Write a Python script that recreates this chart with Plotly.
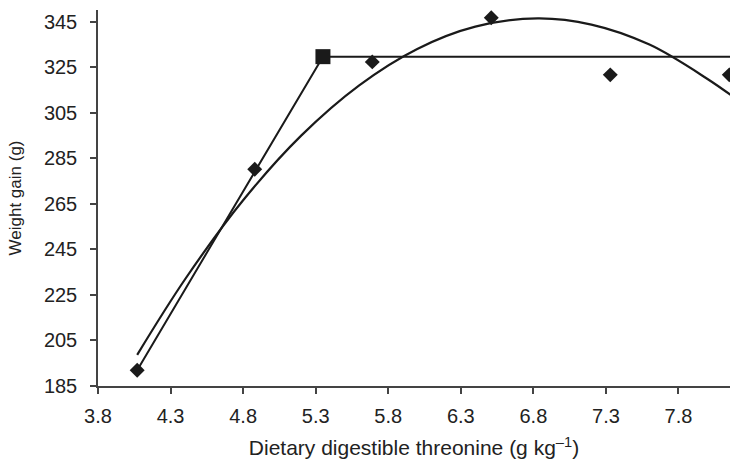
import plotly.graph_objects as go

# Observed data (diamonds)
obs_x = [4.07, 4.88, 5.69, 6.51, 7.33, 8.15]
obs_y = [191.9, 280.2, 327.4, 346.8, 321.7, 321.7]

# Broken-line model: ascending segment, breakpoint, plateau
broken_x = [4.07, 5.35, 8.2]
broken_y = [191.9, 329.7, 329.7]
break_x = [5.35]
break_y = [329.7]

# Quadratic fit curve
quad_x = [4.07, 4.4, 4.8, 5.2, 5.6, 6.0, 6.4, 6.83, 7.2, 7.6, 8.0, 8.2]
quad_y = [198.7, 231.9, 266.6, 295.0, 317.1, 333.1, 342.9, 346.5, 343.8, 335.0, 319.9, 311.0]

x_ticks = [3.8, 4.3, 4.8, 5.3, 5.8, 6.3, 6.8, 7.3, 7.8]
y_ticks = [185, 205, 225, 245, 265, 285, 305, 325, 345]

fig = go.Figure()
fig.add_trace(go.Scatter(x=quad_x, y=quad_y, mode="lines",
                         line=dict(color="#1a1a1a", width=2.2, shape="spline"),
                         showlegend=False))
fig.add_trace(go.Scatter(x=broken_x, y=broken_y, mode="lines",
                         line=dict(color="#1a1a1a", width=2),
                         showlegend=False))
fig.add_trace(go.Scatter(x=obs_x, y=obs_y, mode="markers",
                         marker=dict(symbol="diamond", size=11.5, color="#1a1a1a"),
                         showlegend=False, cliponaxis=False))
fig.add_trace(go.Scatter(x=break_x, y=break_y, mode="markers",
                         marker=dict(symbol="square", size=15, color="#1a1a1a"),
                         showlegend=False))

family = "Liberation Sans, Arial, sans-serif"
font = dict(family=family, size=20, color="#222")
fig.update_layout(
    width=730, height=462,
    margin=dict(l=98, r=0, t=10, b=76),
    plot_bgcolor="white", paper_bgcolor="white",
    font=font,
    xaxis=dict(range=[3.8, 8.155], tickvals=x_ticks,
               ticktext=[f"{v:.1f}" for v in x_ticks],
               showgrid=False, zeroline=False, showline=True,
               linecolor="#444", linewidth=1.5,
               ticks="outside", ticklen=6, tickcolor="#444", tickwidth=1.5,
               ticklabelstandoff=5,
               title=dict(text="Dietary digestible threonine (g kg<sup>\u20131</sup>)",
                          standoff=15, font=dict(family=family, size=21, color="#222"))),
    yaxis=dict(range=[185, 350.2], tickvals=y_ticks,
               showgrid=False, zeroline=False, showline=True,
               linecolor="#444", linewidth=1.5,
               ticks="outside", ticklen=6, tickcolor="#444", tickwidth=1.5,
               ticklabelstandoff=9,
               title=dict(text="Weight gain (g)", standoff=18,
                          font=dict(family=family, size=17, color="#222"))),
)

fig.write_html("out.html", config={"displayModeBar": False},
               post_script="document.body.style.margin='0';document.body.style.overflow='hidden';")
